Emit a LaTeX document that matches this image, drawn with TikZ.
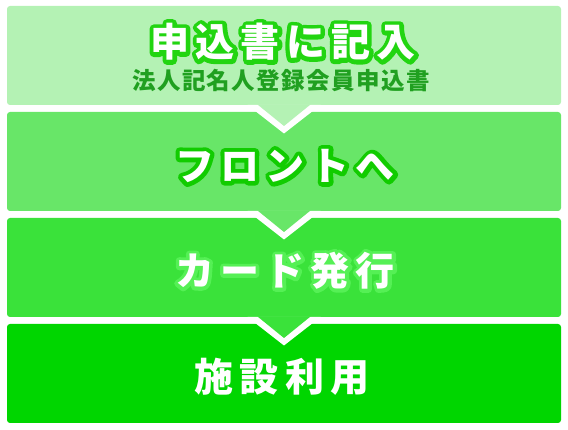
\documentclass[tikz,border=0pt]{standalone}
\usepackage{fontspec}
\usepackage{tikz}
\usetikzlibrary{calc}
\newfontfamily\jpfont{Noto Sans CJK JP}
\definecolor{stA}{HTML}{B4F2B4}
\definecolor{stB}{HTML}{68E668}
\definecolor{stC}{HTML}{3AE23A}
\definecolor{stD}{HTML}{00D600}
\definecolor{glowA}{HTML}{22D511}
\definecolor{glowB}{HTML}{11CC00}
\definecolor{glowC}{HTML}{55F055}
\definecolor{subgreen}{HTML}{20A020}
% stroked copy behind the white letters
\newcommand{\rimtext}[3]{\rlap{\color{#1}\special{pdf:literal direct 2 Tr #2 w 1 j 1 J}#3\special{pdf:literal direct 0 Tr}}#3}
\tikzstyle{stage}=[rectangle, rounded corners=3pt, minimum width=554pt, minimum height=99pt, inner sep=0pt, outer sep=0pt]
\tikzstyle{bigT}=[font=\jpfont\bfseries\fontsize{39}{41}\selectfont\addfontfeature{LetterSpace=16}, text=white, inner sep=0pt]
\tikzstyle{subT}=[font=\jpfont\bfseries\fontsize{23.5}{25}\selectfont\addfontfeature{LetterSpace=6}, text=subgreen, inner sep=0pt]

\begin{document}
\begin{tikzpicture}[x=1pt, y=1pt]
        \useasboundingbox (0,0) rectangle (568,-430);
        \node(s1) [stage, fill=stA] at (284, -55.5){};
        \node(s2) [stage, fill=stB] at (284, -161.5){};
        \node(s3) [stage, fill=stC] at (284, -267.5){};
        \node(s4) [stage, fill=stD] at (284, -373.5){};
        % chevrons
        \foreach \s/\c in {s1/stA, s2/stB, s3/stC}{
            \fill[white] ($(\s.south)+(-36.5,0)$) -- ($(\s.south)+(36.5,0)$) -- ($(\s.south)+(0,-28.5)$) -- cycle;
            \fill[\c] ($(\s.south)+(-26.5,0.5)$) -- ($(\s.south)+(26.5,0.5)$) -- ($(\s.south)+(0,-21)$) -- cycle;
        }
        \node(t1) [bigT] at (283, -42){\rimtext{glowA}{8.5}{申込書に記入}};
        \node(t1s) [subT] at (281, -81){法人記名人登録会員申込書};
        \node(t2) [bigT] at (285, -166){\rimtext{glowB}{8.5}{フロントへ}};
        \node(t3) [bigT] at (285, -271){\rimtext{glowC}{7}{カード発行}};
        \node(t4) [bigT] at (282, -376.5){施設利用};
     \end{tikzpicture}
\end{document}
